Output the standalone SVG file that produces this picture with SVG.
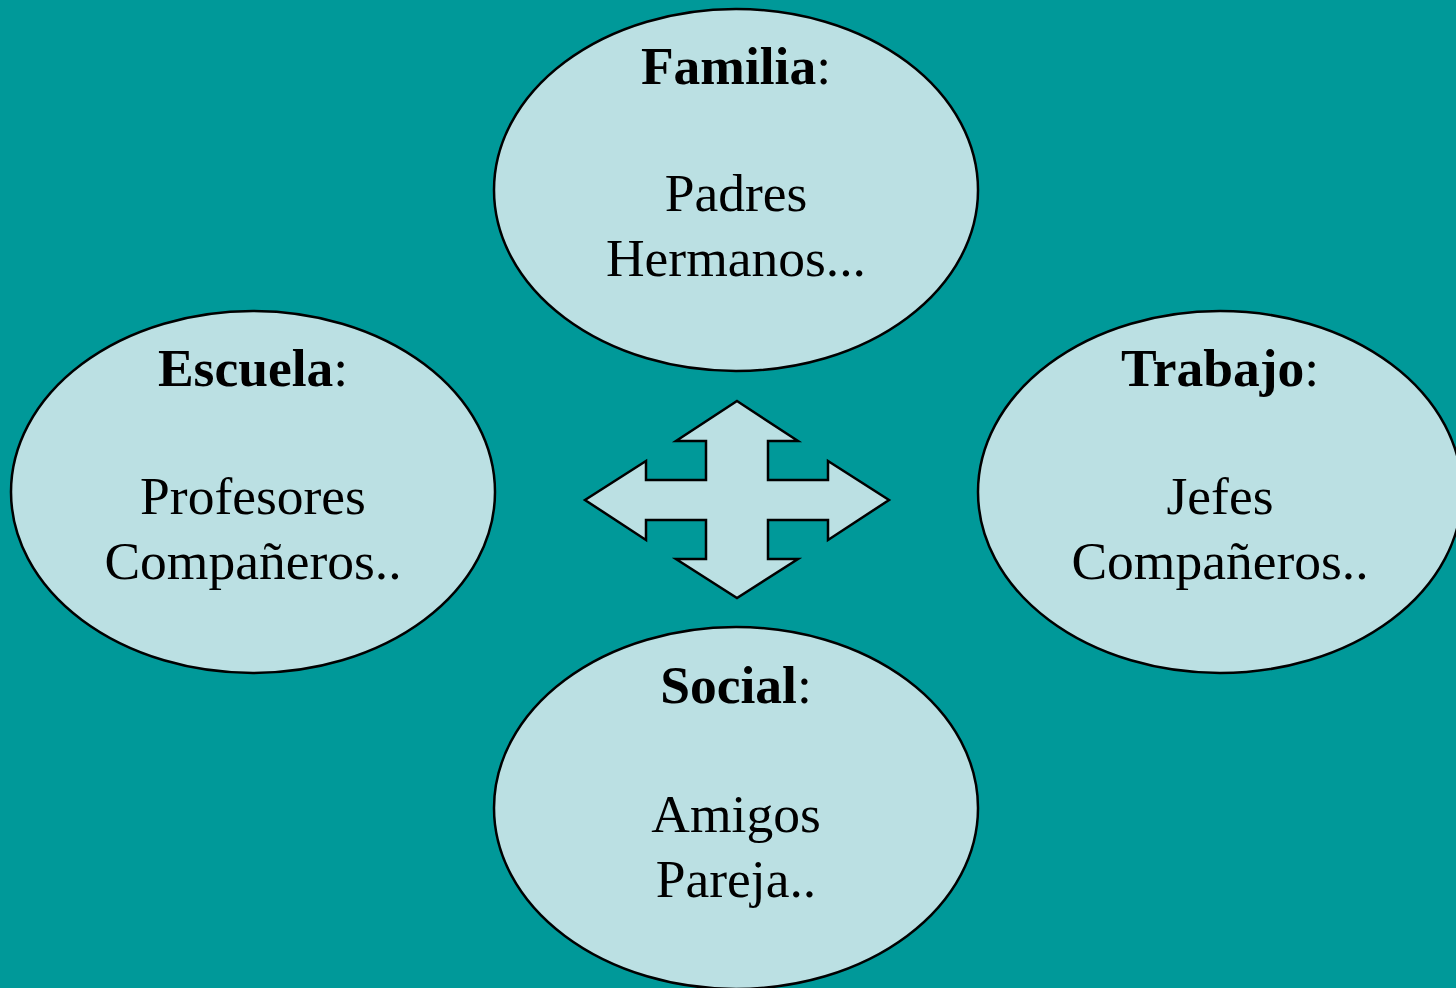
<svg xmlns="http://www.w3.org/2000/svg" width="1456" height="988" viewBox="0 0 1456 988">
<style>
.node{fill:#BBE0E3;stroke:#000;stroke-width:2.5}
.t{font-family:"Liberation Serif","Times New Roman",serif;font-size:53.5px;fill:#000;text-anchor:middle}
.b{font-weight:bold}
</style>
<rect width="1456" height="988" fill="#009999"/>
<g id="connectors">
<path class="node" d="M737,401 L798,441 L768,441 L768,480 L828,480 L828,461 L889,500 L828,540 L828,520 L768,520 L768,559 L798,559 L737,598 L676,559 L706,559 L706,520 L646,520 L646,540 L585,500 L646,461 L646,480 L706,480 L706,441 L676,441 Z"/>
</g>
<g id="familia">
<ellipse class="node" cx="736" cy="190" rx="242" ry="181"/>
<text class="t" x="736" y="84"><tspan class="b">Familia</tspan>:</text>
<text class="t" x="736" y="211">Padres</text>
<text class="t" x="736" y="276">Hermanos...</text>
</g>
<g id="escuela">
<ellipse class="node" cx="253" cy="492" rx="242" ry="181"/>
<text class="t" x="253" y="386"><tspan class="b">Escuela</tspan>:</text>
<text class="t" x="253" y="514">Profesores</text>
<text class="t" x="253" y="579">Compañeros..</text>
</g>
<g id="trabajo">
<ellipse class="node" cx="1220" cy="492" rx="242" ry="181"/>
<text class="t" x="1220" y="386"><tspan class="b">Trabajo</tspan>:</text>
<text class="t" x="1220" y="514">Jefes</text>
<text class="t" x="1220" y="579">Compañeros..</text>
</g>
<g id="social">
<ellipse class="node" cx="736" cy="808" rx="242" ry="181"/>
<text class="t" x="736" y="703"><tspan class="b">Social</tspan>:</text>
<text class="t" x="736" y="832">Amigos</text>
<text class="t" x="736" y="897">Pareja..</text>
</g>
</svg>
